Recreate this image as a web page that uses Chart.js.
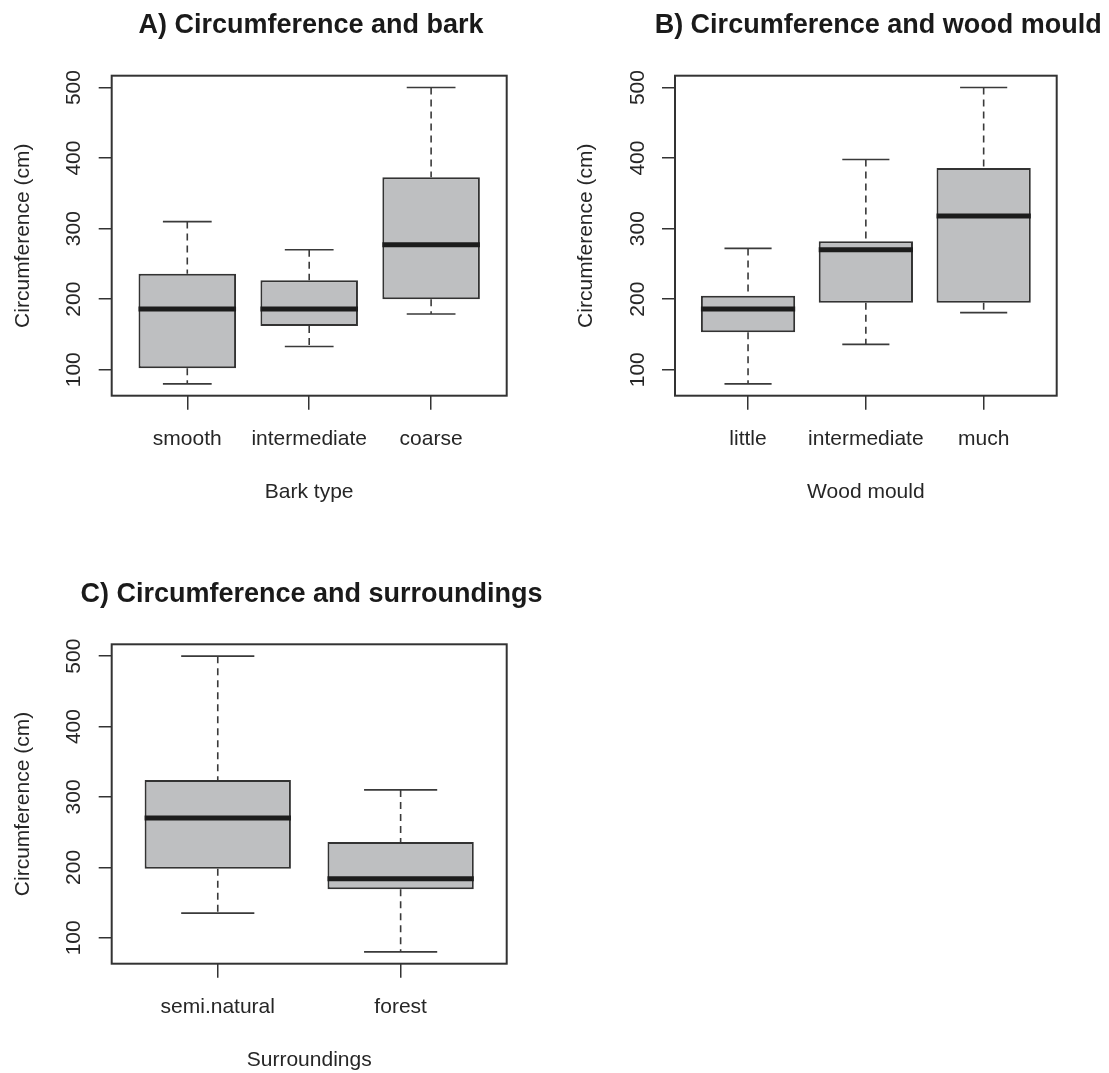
<!DOCTYPE html>
<html>
<head>
<meta charset="utf-8">
<script src="https://cdn.jsdelivr.net/npm/chart.js@4.4.1/dist/chart.umd.min.js"></script>
<style>
  html, body { margin: 0; padding: 0; background: #fff; overflow: hidden; }
  .panel { position: absolute; }
</style>
</head>
<body>
<div class="panel" style="left:0;top:0"><canvas id="panelA" width="622" height="530"></canvas></div>
<div class="panel" style="left:555px;top:0"><canvas id="panelB" width="638" height="530"></canvas></div>
<div class="panel" style="left:0;top:540px"><canvas id="panelC" width="623" height="533"></canvas></div>
<script>
// A) bark type
var barkCats = ['smooth', 'intermediate', 'coarse']
var barkLow = [80, 133, 179]
var barkQ1 = [102, 162, 200]
var barkMed = [186, 186, 277]
var barkQ3 = [236, 227, 373]
var barkHigh = [310, 270, 500]

// B) wood mould
var mouldCats = ['little', 'intermediate', 'much']
var mouldLow = [80, 136, 181]
var mouldQ1 = [153, 195, 195]
var mouldMed = [186, 270, 318]
var mouldQ3 = [205, 282, 386]
var mouldHigh = [272, 398, 500]

// C) surroundings
var surrCats = ['semi.natural', 'forest']
var surrLow = [135, 80]
var surrQ1 = [198, 169]
var surrMed = [270, 184]
var surrQ3 = [324, 236]
var surrHigh = [500, 310]

var yTicks = [100, 200, 300, 400, 500]

var FONT = "'Liberation Sans', Arial, sans-serif"
var INK = '#262626'

// whiskers, staples and medians, drawn through the chart scales
var boxParts = {
  id: 'boxParts',
  afterDatasetsDraw: function (chart, args, opts) {
    var ctx = chart.ctx
    var xs = chart.scales.x, ys = chart.scales.y
    ctx.save()
    opts.cats.forEach(function (c, i) {
      var x = xs.getPixelForValue(i + 1)
      ctx.strokeStyle = '#3a3a3a'
      ctx.lineWidth = 1.6
      ctx.setLineDash([7, 5])
      ctx.beginPath()
      ctx.moveTo(x, ys.getPixelForValue(opts.high[i]))
      ctx.lineTo(x, ys.getPixelForValue(opts.q3[i]))
      ctx.moveTo(x, ys.getPixelForValue(opts.q1[i]))
      ctx.lineTo(x, ys.getPixelForValue(opts.low[i]))
      ctx.stroke()
      ctx.setLineDash([])
      ctx.beginPath()
      var a = xs.getPixelForValue(i + 0.8), b = xs.getPixelForValue(i + 1.2)
      ctx.moveTo(a, ys.getPixelForValue(opts.high[i]))
      ctx.lineTo(b, ys.getPixelForValue(opts.high[i]))
      ctx.moveTo(a, ys.getPixelForValue(opts.low[i]))
      ctx.lineTo(b, ys.getPixelForValue(opts.low[i]))
      ctx.stroke()
      // median
      ctx.strokeStyle = '#1c1c1c'
      ctx.lineWidth = 5
      ctx.beginPath()
      ctx.moveTo(xs.getPixelForValue(i + 0.6), ys.getPixelForValue(opts.med[i]))
      ctx.lineTo(xs.getPixelForValue(i + 1.4), ys.getPixelForValue(opts.med[i]))
      ctx.stroke()
    })
    ctx.restore()
  },
  afterDraw: function (chart) {
    var a = chart.chartArea, ctx = chart.ctx
    ctx.save()
    ctx.strokeStyle = '#333'
    ctx.lineWidth = 2
    ctx.strokeRect(a.left, a.top, a.right - a.left, a.bottom - a.top)
    ctx.restore()
  }
}

// box: plot area inside the canvas. An empty axis on the right pads the
// canvas so the full-width title sits over the plot, like in R
function makePanel(id, title, xTitle, cats, low, q1, med, q3, high, box) {
  var canvas = document.getElementById(id)
  var W = canvas.width, H = canvas.height
  var yAxisW = 111.7
  var xAxisH = H - box.bottom
  var lo = Math.min.apply(null, low), hi = Math.max.apply(null, high)
  var ext = (hi - lo) * 0.04
  var n = cats.length

  return new Chart(canvas.getContext('2d'), {
    type: 'bar',
    data: {
      datasets: [{
        data: cats.map(function (c, i) { return { x: i + 1, y: [q1[i], q3[i]] } }),
        backgroundColor: '#bebfc1',
        borderColor: '#333',
        borderWidth: 2,
        borderSkipped: false,
        barPercentage: 0.8,
        categoryPercentage: 1
      }]
    },
    options: {
      responsive: false,
      animation: false,
      events: [],
      layout: { padding: { left: box.left - yAxisW, right: 0, top: 0, bottom: 0 } },
      plugins: {
        legend: { display: false },
        tooltip: { enabled: false },
        title: {
          display: true,
          text: title,
          fullSize: true,
          color: '#1a1a1a',
          font: { family: FONT, size: 27, weight: 'bold', lineHeight: 1.2 },
          padding: { top: box.top - 65.9, bottom: 33.5 }
        },
        boxParts: { cats: cats, low: low, q1: q1, med: med, q3: q3, high: high }
      },
      scales: {
        x: {
          type: 'linear',
          offset: false,
          min: 0.5 - 0.04 * n,
          max: n + 0.5 + 0.04 * n,
          afterBuildTicks: function (s) { s.ticks = cats.map(function (c, i) { return { value: i + 1 } }) },
          afterFit: function (s) { s.height = xAxisH },
          border: { display: false },
          grid: { offset: false, drawOnChartArea: false, drawTicks: true, tickLength: 14, color: '#333', lineWidth: 1.5 },
          ticks: {
            autoSkip: false, maxRotation: 0, padding: 16.7, color: INK,
            font: { family: FONT, size: 21 },
            callback: function (v) { return cats[v - 1] }
          },
          title: {
            display: true, text: xTitle, color: INK,
            font: { family: FONT, size: 21 },
            padding: { top: 0, bottom: Math.max(0, xAxisH - 109.4) }
          }
        },
        y: {
          type: 'linear',
          min: lo - ext,
          max: hi + ext,
          afterBuildTicks: function (s) { s.ticks = yTicks.map(function (v) { return { value: v } }) },
          afterFit: function (s) { s.width = yAxisW },
          border: { display: false },
          grid: { drawOnChartArea: false, drawTicks: true, tickLength: 13, color: '#333', lineWidth: 1.5 },
          ticks: {
            autoSkip: false, minRotation: 90, maxRotation: 90, crossAlign: 'center',
            padding: 6.5, color: INK,
            font: { family: FONT, size: 21 }
          },
          title: {
            display: true, text: 'Circumference (cm)', color: INK,
            font: { family: FONT, size: 21 },
            padding: { top: 10.7, bottom: 0 }
          }
        },
        spacer: {
          type: 'linear',
          position: 'right',
          grid: { display: false },
          border: { display: false },
          ticks: { display: false },
          afterFit: function (s) { s.width = W - box.right }
        }
      }
    },
    plugins: [boxParts]
  })
}

makePanel('panelA', 'A) Circumference and bark', 'Bark type',
  barkCats, barkLow, barkQ1, barkMed, barkQ3, barkHigh,
  { left: 111.7, top: 75.7, right: 506.7, bottom: 395.7 })

makePanel('panelB', 'B) Circumference and wood mould', 'Wood mould',
  mouldCats, mouldLow, mouldQ1, mouldMed, mouldQ3, mouldHigh,
  { left: 120, top: 75.7, right: 501.7, bottom: 395.7 })

makePanel('panelC', 'C) Circumference and surroundings', 'Surroundings',
  surrCats, surrLow, surrQ1, surrMed, surrQ3, surrHigh,
  { left: 111.7, top: 104.3, right: 506.7, bottom: 423.7 })
</script>
</body>
</html>
